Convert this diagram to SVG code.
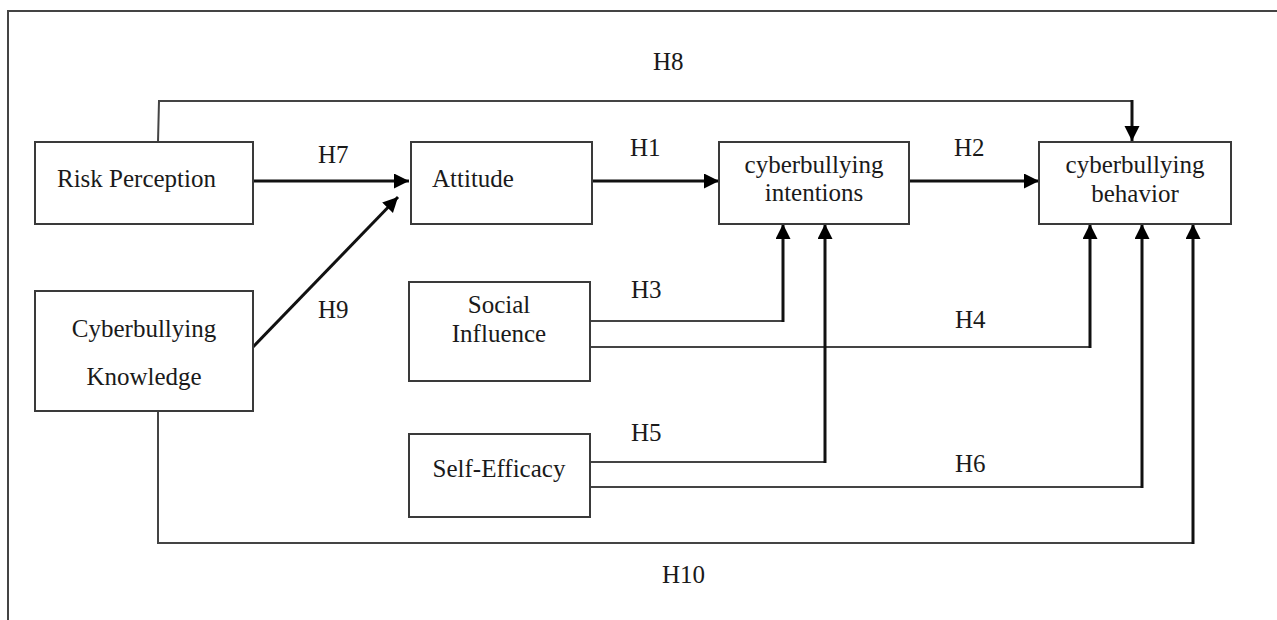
<svg xmlns="http://www.w3.org/2000/svg" width="1277" height="620" viewBox="0 0 1277 620">
<style>
.box{fill:#fff;stroke:#3a3a3a;stroke-width:2}
.t{font-family:"Liberation Serif","Times New Roman",serif;font-size:25px;fill:#1a1a1a}
.c{text-anchor:middle}
.thin{fill:none;stroke:#444;stroke-width:2}
.thick{fill:none;stroke:#111;stroke-width:3}
.frame{fill:none;stroke:#444;stroke-width:2}
</style>
<defs>
<marker id="ah" markerUnits="userSpaceOnUse" markerWidth="16" markerHeight="16" refX="15" refY="7.5" orient="auto">
<path d="M0,0 L15,7.5 L0,15 z" fill="#000"/>
</marker>
</defs>
<rect width="1277" height="620" fill="#fff"/>
<polyline class="frame" points="8,620 8,11 1277,11"/>

<g id="connectors">
<polyline class="thin" points="158,142 159,101 1132,101 1132,126"/>
<line class="thick" x1="1132" y1="100" x2="1132" y2="141" marker-end="url(#ah)"/>
<line id="h7" class="thick" x1="253" y1="181" x2="409" y2="181" marker-end="url(#ah)"/>
<line id="h9" class="thick" x1="253" y1="347" x2="398" y2="197" marker-end="url(#ah)"/>
<line id="h1" class="thick" x1="590" y1="181" x2="719" y2="181" marker-end="url(#ah)"/>
<line id="h2" class="thick" x1="909" y1="181" x2="1039" y2="181" marker-end="url(#ah)"/>
<polyline class="thin" points="590,321 783,321"/>
<line class="thick" x1="783" y1="322" x2="783" y2="224" marker-end="url(#ah)"/>
<polyline class="thin" points="590,347 1090,347"/>
<line class="thick" x1="1090" y1="348" x2="1090" y2="224" marker-end="url(#ah)"/>
<polyline class="thin" points="590,462 825,462"/>
<line class="thick" x1="825" y1="463" x2="825" y2="224" marker-end="url(#ah)"/>
<polyline class="thin" points="590,487 1142,487"/>
<line class="thick" x1="1142" y1="488" x2="1142" y2="224" marker-end="url(#ah)"/>
<polyline class="thin" points="158,411 158,543 1193,543"/>
<line class="thick" x1="1193" y1="544" x2="1193" y2="224" marker-end="url(#ah)"/>
</g>

<g id="labels">
<text class="t" x="653" y="70">H8</text>
<text class="t" x="318" y="163">H7</text>
<text class="t" x="630" y="156">H1</text>
<text class="t" x="954" y="156">H2</text>
<text class="t" x="318" y="318">H9</text>
<text class="t" x="631" y="298">H3</text>
<text class="t" x="955" y="328">H4</text>
<text class="t" x="631" y="441">H5</text>
<text class="t" x="955" y="472">H6</text>
<text class="t" x="662" y="583">H10</text>
</g>

<g id="risk-perception">
<rect class="box" x="35" y="142" width="218" height="82"/>
<text class="t" x="57" y="187">Risk Perception</text>
</g>
<g id="attitude">
<rect class="box" x="411" y="142" width="181" height="82"/>
<text class="t" x="432" y="187">Attitude</text>
</g>
<g id="cyberbullying-intentions">
<rect class="box" x="719" y="142" width="190" height="82"/>
<text class="t c" x="814" y="173">cyberbullying</text>
<text class="t c" x="814" y="201">intentions</text>
</g>
<g id="cyberbullying-behavior">
<rect class="box" x="1039" y="142" width="192" height="82"/>
<text class="t c" x="1135" y="173">cyberbullying</text>
<text class="t c" x="1135" y="202">behavior</text>
</g>
<g id="cyberbullying-knowledge">
<rect class="box" x="35" y="291" width="218" height="120"/>
<text class="t c" x="144" y="337">Cyberbullying</text>
<text class="t c" x="144" y="385">Knowledge</text>
</g>
<g id="social-influence">
<rect class="box" x="409" y="282" width="181" height="99"/>
<text class="t c" x="499" y="313">Social</text>
<text class="t c" x="499" y="342">Influence</text>
</g>
<g id="self-efficacy">
<rect class="box" x="409" y="434" width="181" height="83"/>
<text class="t c" x="499" y="477">Self-Efficacy</text>
</g>
</svg>
